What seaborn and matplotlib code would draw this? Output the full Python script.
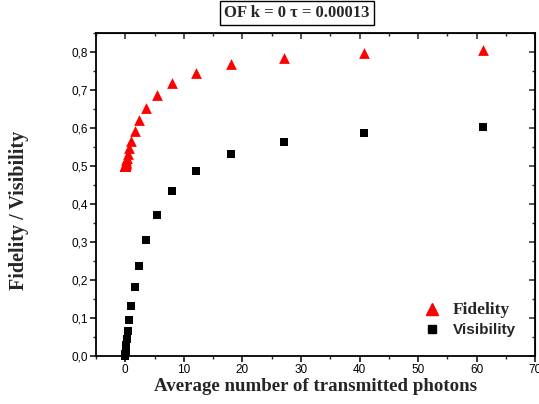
import matplotlib as mpl

mpl.use('Agg')
import matplotlib.pyplot as plt
from matplotlib.ticker import FuncFormatter, MultipleLocator
from matplotlib.lines import Line2D
import pandas as pd
import seaborn as sns

#### data ####
photons = [61.0, 40.7, 27.1, 18.1, 12.05, 8.03, 5.36, 3.57, 2.38, 1.59,
           1.06, 0.705, 0.47, 0.313, 0.209, 0.139, 0.093, 0.062, 0.041,
           0.0275, 0.018, 0.012, 0.008, 0.0054, 0.0036, 0.0024, 0.0016, 0.001]
fidelity = [0.805, 0.797, 0.784, 0.768, 0.746, 0.718, 0.687, 0.654, 0.622,
            0.592, 0.566, 0.548, 0.533, 0.522, 0.515, 0.510, 0.507, 0.5045,
            0.503, 0.502, 0.5014, 0.5009, 0.5006, 0.5004, 0.5003, 0.5002,
            0.5001, 0.5001]
visibility = [0.603, 0.587, 0.563, 0.531, 0.487, 0.433, 0.371, 0.304, 0.238,
              0.181, 0.132, 0.095, 0.065, 0.045, 0.030, 0.020, 0.014, 0.009,
              0.006, 0.004, 0.0027, 0.0018, 0.0012, 0.0008, 0.0005, 0.0004,
              0.0002, 0.0001]
series_names = ['Fidelity', 'Visibility']
###############

df = pd.concat([
    pd.DataFrame({'x': photons, 'y': fidelity, 'series': 'Fidelity'}),
    pd.DataFrame({'x': photons, 'y': visibility, 'series': 'Visibility'}),
], ignore_index=True)

sns.set_style('ticks')
plt.rcParams['font.family'] = ['Liberation Sans', 'DejaVu Sans']
plt.rcParams['xtick.direction'] = 'out'
plt.rcParams['ytick.direction'] = 'out'

figure = plt.figure(figsize=(5.39, 4.04), dpi=100)
axis = figure.add_axes([0.178, 0.119, 0.815, 0.799])

sns.scatterplot(data=df[df.series == 'Fidelity'], x='x', y='y',
                marker='^', color='#ff0000', s=60, edgecolor='#ff0000',
                linewidth=0, ax=axis, clip_on=False, legend=False)
sns.scatterplot(data=df[df.series == 'Visibility'], x='x', y='y',
                marker='s', color='black', s=36, edgecolor='black',
                linewidth=0, ax=axis, clip_on=False, legend=False)

axis.set_xlim(-5, 70)
axis.set_ylim(0, 0.85)
axis.xaxis.set_major_locator(MultipleLocator(10))
axis.xaxis.set_minor_locator(MultipleLocator(5))
axis.yaxis.set_major_locator(MultipleLocator(0.1))
axis.yaxis.set_minor_locator(MultipleLocator(0.05))
axis.yaxis.set_major_formatter(
    FuncFormatter(lambda v, p: ('%.1f' % v).replace('.', ',')))
axis.xaxis.set_major_formatter(FuncFormatter(lambda v, p: '%d' % v))

for side in ['top', 'right', 'left', 'bottom']:
    axis.spines[side].set_linewidth(1.3)
    axis.spines[side].set_color('black')
axis.tick_params(which='major', length=4, width=1.1, labelsize=8.5,
                 colors='black', pad=2)
axis.tick_params(which='minor', length=2.5, width=1.0)

# mirrored ticks (inside) on top and right
top = axis.secondary_xaxis('top')
top.set_xticks(axis.get_xticks())
top.xaxis.set_minor_locator(MultipleLocator(5))
top.tick_params(which='both', direction='in', labeltop=False)
top.tick_params(which='major', length=4, width=1.1)
top.tick_params(which='minor', length=2.5, width=1.0)
right = axis.secondary_yaxis('right')
right.yaxis.set_major_locator(MultipleLocator(0.1))
right.yaxis.set_minor_locator(MultipleLocator(0.05))
right.tick_params(which='both', direction='in', labelright=False)
right.tick_params(which='major', length=4, width=1.1)
right.tick_params(which='minor', length=2.5, width=1.0)

serif = ['Liberation Serif', 'DejaVu Serif']
axis.set_xlabel('Average number of transmitted photons', family=serif,
                fontweight='bold', fontsize=13.6, labelpad=1)
axis.set_ylabel('Fidelity / Visibility', family=serif,
                fontweight='bold', fontsize=14.5)
axis.yaxis.set_label_coords(-0.152, 0.45)

figure.text(0.551, 0.968, u'OF k = 0 \u03c4 = 0.00013', family=serif,
            fontweight='bold', fontsize=12, ha='center', va='center',
            bbox=dict(boxstyle='square,pad=0.25', facecolor='white',
                      edgecolor='black', linewidth=1))

handles = [Line2D([], [], marker='^', ls='', color='#ff0000', markersize=8),
           Line2D([], [], marker='s', ls='', color='black', markersize=6)]
leg = axis.legend(handles, series_names, loc='lower right',
                  bbox_to_anchor=(0.985, 0.02), frameon=False,
                  handletextpad=0.5, labelspacing=0.35)
leg.get_texts()[0].set_family(serif)
leg.get_texts()[0].set_fontweight('bold')
leg.get_texts()[0].set_fontsize(12.5)
leg.get_texts()[1].set_fontweight('bold')
leg.get_texts()[1].set_fontsize(11)

plt.savefig('out.png', dpi=100)
